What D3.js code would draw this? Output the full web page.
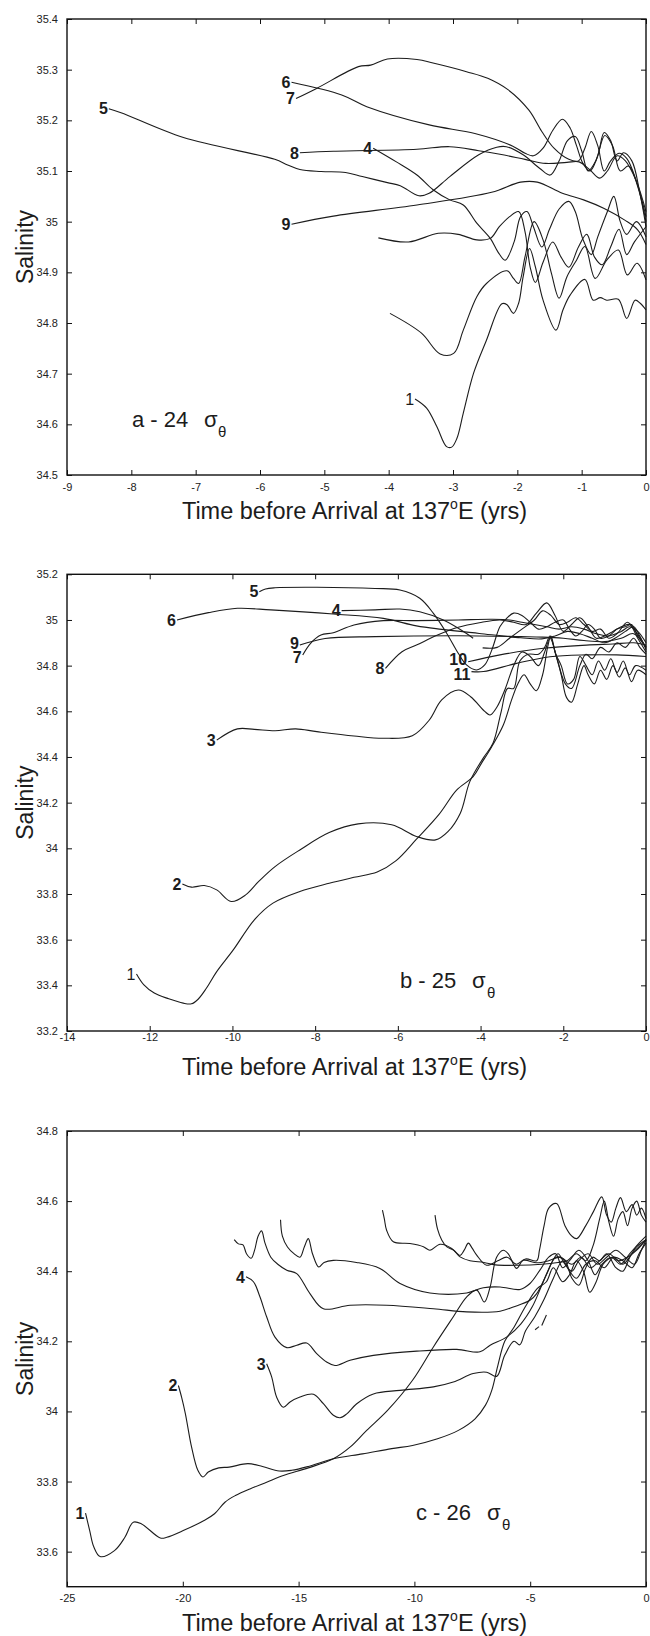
<!DOCTYPE html>
<html><head><meta charset="utf-8">
<script src="https://cdn.jsdelivr.net/npm/d3@7"></script>
<style>body{margin:0;background:#fff}</style>
</head><body>
<svg id="chart" width="650" height="1636"></svg>
<script>
// ---------------- Panel a : 24 sigma-theta ----------------
const aXTicks = [-9,-8,-7,-6,-5,-4,-3,-2,-1,0];
const aYTicks = [34.5,34.6,34.7,34.8,34.9,35,35.1,35.2,35.3,35.4];
const a1 = [[-3.59,34.650],[-3.41,34.632],[-3.25,34.595],[-3.10,34.556],[-3.02,34.555],[-2.94,34.572],[-2.84,34.622],[-2.68,34.701],[-2.48,34.766],[-2.24,34.838],[-2.16,34.836],[-2.06,34.819],[-1.98,34.839],[-1.91,34.891],[-1.81,34.947],[-1.72,34.911],[-1.60,34.845],[-1.40,34.786],[-1.29,34.826],[-1.18,34.855],[-0.95,34.886],[-0.82,34.845],[-0.71,34.850],[-0.61,34.845],[-0.43,34.847],[-0.30,34.809],[-0.17,34.845],[-0.09,34.839],[0,34.826]];
const a2 = [[-3.98,34.819],[-3.49,34.780],[-3.20,34.739],[-2.99,34.740],[-2.84,34.786],[-2.63,34.852],[-2.48,34.878],[-2.16,34.903],[-2.06,34.888],[-1.98,34.878],[-1.88,34.931],[-1.74,35.000],[-1.60,34.964],[-1.47,34.898],[-1.35,34.849],[-1.23,34.891],[-1.08,34.924],[-0.95,34.951],[-0.79,34.888],[-0.61,34.924],[-0.43,34.944],[-0.29,34.895],[-0.14,34.918],[0,34.885]];
const a3 = [[-4.16,34.968],[-3.69,34.960],[-3.23,34.977],[-2.92,34.975],[-2.63,34.964],[-2.42,34.967],[-2.28,34.99],[-2.12,35.01],[-1.98,35.02],[-1.88,34.98],[-1.80,34.91],[-1.72,34.88],[-1.60,34.92],[-1.45,34.96],[-1.32,34.93],[-1.20,34.91],[-1.05,34.95],[-0.92,34.975],[-0.80,34.93],[-0.68,34.915],[-0.55,34.95],[-0.42,34.985],[-0.30,34.935],[-0.18,34.96],[0,34.99]];
const a4 = [[-4.24,35.145],[-3.88,35.118],[-3.56,35.092],[-3.31,35.063],[-3.05,35.043],[-2.84,35.033],[-2.63,34.997],[-2.42,34.967],[-2.30,34.94],[-2.19,34.924],[-2.05,34.96],[-1.95,35.01],[-1.85,35.02],[-1.75,34.99],[-1.62,34.95],[-1.50,34.985],[-1.35,35.025],[-1.20,35.04],[-1.10,35.02],[-0.98,34.965],[-0.85,34.935],[-0.75,34.97],[-0.60,35.02],[-0.50,35.05],[-0.40,35.00],[-0.30,34.975],[-0.15,35.0],[0,34.97]];
const a5 = [[-8.35,35.223],[-8.16,35.215],[-7.19,35.166],[-5.77,35.123],[-5.57,35.112],[-5.38,35.103],[-5.05,35.099],[-4.67,35.097],[-4.41,35.089],[-4.02,35.077],[-3.82,35.071],[-3.53,35.051],[-3.37,35.056],[-3.05,35.089],[-2.60,35.132],[-2.32,35.147],[-2.17,35.148],[-1.91,35.132],[-1.65,35.105],[-1.49,35.092],[-1.35,35.12],[-1.22,35.16],[-1.10,35.168],[-1.00,35.14],[-0.90,35.10],[-0.78,35.12],[-0.64,35.17],[-0.52,35.15],[-0.40,35.10],[-0.27,35.11],[-0.13,35.07],[0,35.0]];
const a6 = [[-5.51,35.275],[-4.73,35.250],[-4.34,35.227],[-3.37,35.191],[-2.66,35.174],[-2.07,35.149],[-1.88,35.135],[-1.75,35.130],[-1.60,35.145],[-1.45,35.18],[-1.30,35.202],[-1.18,35.185],[-1.08,35.15],[-0.98,35.115],[-0.87,35.10],[-0.75,35.13],[-0.65,35.176],[-0.55,35.16],[-0.45,35.12],[-0.35,35.136],[-0.22,35.12],[-0.10,35.06],[0,34.99]];
const a7 = [[-5.44,35.243],[-5.12,35.263],[-4.47,35.306],[-4.28,35.309],[-4.02,35.321],[-3.56,35.320],[-3.31,35.313],[-2.79,35.296],[-2.46,35.283],[-2.14,35.260],[-1.82,35.220],[-1.62,35.178],[-1.43,35.145],[-1.20,35.123],[-1.05,35.12],[-0.95,35.145],[-0.85,35.178],[-0.75,35.15],[-0.65,35.10],[-0.55,35.12],[-0.42,35.135],[-0.30,35.125],[-0.15,35.08],[0,35.01]];
const a8 = [[-5.38,35.136],[-4.86,35.139],[-3.56,35.143],[-3.05,35.148],[-2.60,35.140],[-2.27,35.133],[-1.88,35.123],[-1.56,35.115],[-1.23,35.117],[-1.04,35.118],[-0.87,35.102],[-0.72,35.086],[-0.60,35.10],[-0.45,35.13],[-0.32,35.12],[-0.15,35.08],[0,35.02]];
const a9 = [[-5.51,34.995],[-4.86,35.011],[-3.56,35.033],[-2.40,35.058],[-1.95,35.078],[-1.69,35.078],[-1.30,35.056],[-0.97,35.043],[-0.65,35.026],[-0.33,35.003],[-0.13,34.984],[0,34.955]];
const aSeries = [a1,a2,a3,a4,a5,a6,a7,a8,a9];
const aNames  = ["1","","","4","5","6","7","8","9"];

// ---------------- Panel b : 25 sigma-theta ----------------
const bXTicks = [-14,-12,-10,-8,-6,-4,-2,0];
const bYTicks = [33.2,33.4,33.6,33.8,34,34.2,34.4,34.6,34.8,35,35.2];
const b1 = [[-12.32,33.45],[-12.14,33.402],[-11.89,33.366],[-11.54,33.341],[-11.19,33.322],[-10.99,33.319],[-10.83,33.339],[-10.63,33.387],[-10.38,33.46],[-9.98,33.555],[-9.47,33.687],[-9.02,33.76],[-8.37,33.811],[-7.66,33.847],[-7.06,33.873],[-6.5,33.896],[-6.05,33.945],[-5.55,34.04],[-5.0,34.15],[-4.58,34.255],[-4.18,34.314],[-3.98,34.372],[-3.73,34.445],[-3.45,34.54],[-3.25,34.65],[-3.1,34.72],[-2.95,34.76],[-2.8,34.72],[-2.65,34.69],[-2.5,34.76],[-2.38,34.88],[-2.3,34.93],[-2.2,34.86],[-2.05,34.76],[-1.92,34.66],[-1.8,34.64],[-1.65,34.72],[-1.5,34.80],[-1.4,34.76],[-1.25,34.72],[-1.1,34.78],[-0.95,34.74],[-0.8,34.80],[-0.65,34.75],[-0.5,34.79],[-0.35,34.73],[-0.2,34.78],[0,34.76]];
const b2 = [[-11.21,33.844],[-10.99,33.83],[-10.68,33.837],[-10.38,33.818],[-10.03,33.767],[-9.68,33.796],[-9.37,33.854],[-8.97,33.92],[-8.37,33.993],[-7.66,34.069],[-6.96,34.107],[-6.15,34.103],[-5.55,34.052],[-5.09,34.037],[-4.79,34.073],[-4.49,34.154],[-4.26,34.292],[-3.94,34.394],[-3.7,34.46],[-3.5,34.6],[-3.35,34.70],[-3.2,34.70],[-3.05,34.82],[-2.85,34.85],[-2.6,34.85],[-2.45,34.88],[-2.32,34.93],[-2.18,34.85],[-2.05,34.80],[-1.9,34.72],[-1.75,34.74],[-1.6,34.84],[-1.45,34.80],[-1.3,34.76],[-1.15,34.82],[-1.0,34.78],[-0.85,34.83],[-0.7,34.77],[-0.55,34.82],[-0.4,34.76],[-0.25,34.80],[0,34.78]];
const b3 = [[-10.38,34.474],[-9.88,34.523],[-9.47,34.521],[-8.97,34.515],[-8.47,34.523],[-7.96,34.511],[-7.06,34.492],[-6.35,34.482],[-5.65,34.493],[-5.24,34.562],[-4.94,34.65],[-4.54,34.693],[-4.24,34.664],[-3.9,34.6],[-3.77,34.584],[-3.6,34.62],[-3.4,34.70],[-3.2,34.80],[-3.0,34.86],[-2.8,34.84],[-2.6,34.80],[-2.45,34.86],[-2.32,34.92],[-2.15,34.83],[-1.95,34.72],[-1.8,34.70],[-1.6,34.80],[-1.45,34.85],[-1.3,34.83],[-1.1,34.88],[-0.9,34.86],[-0.7,34.90],[-0.5,34.88],[-0.3,34.92],[-0.15,34.88],[0,34.85]];
const b4 = [[-7.36,35.041],[-6.55,35.044],[-5.95,35.048],[-5.47,35.036],[-4.90,35.0],[-4.34,34.941],[-4.18,34.92]];
const b5 = [[-9.35,35.124],[-9.2,35.136],[-8.97,35.141],[-7.96,35.143],[-6.55,35.138],[-5.95,35.131],[-5.47,35.095],[-5.14,35.029],[-4.82,34.942],[-4.54,34.854],[-4.34,34.803],[-4.10,34.781],[-3.90,34.803],[-3.73,34.868],[-3.53,34.971],[-3.37,35.007],[-3.2,35.03],[-3.0,35.02],[-2.8,34.99],[-2.6,34.96],[-2.4,34.97],[-2.2,34.99],[-2.0,35.0],[-1.85,34.96],[-1.7,34.93],[-1.55,34.95],[-1.4,34.98],[-1.25,34.96],[-1.1,34.92],[-0.9,34.93],[-0.7,34.96],[-0.5,34.97],[-0.35,34.98],[-0.2,34.93],[0,34.88]];
const b6 = [[-11.34,35.0],[-10.58,35.032],[-9.88,35.051],[-9.07,35.044],[-7.56,35.026],[-6.35,35.007],[-5.55,34.974],[-4.94,34.959],[-4.03,34.941],[-3.03,34.922],[-2.52,34.917],[-2.2,34.93],[-1.9,34.95],[-1.6,34.94],[-1.3,34.92],[-1.0,34.90],[-0.75,34.92],[-0.5,34.95],[-0.3,34.97],[-0.15,34.93],[0,34.87]];
const b7 = [[-8.30,34.847],[-8.11,34.898],[-7.86,34.934],[-7.56,34.944],[-7.06,34.978],[-6.35,34.997],[-5.55,34.997],[-4.54,35.0],[-3.73,35.003],[-3.3,35.0],[-3.0,34.99],[-2.7,34.98],[-2.4,34.97],[-2.1,34.96],[-1.8,34.97],[-1.5,34.96],[-1.2,34.94],[-0.9,34.93],[-0.6,34.95],[-0.4,34.97],[-0.2,34.95],[0,34.9]];
const b8 = [[-6.30,34.788],[-5.90,34.861],[-5.55,34.890],[-5.04,34.934],[-4.54,34.968],[-4.03,34.988],[-3.53,35.0],[-3.2,34.99],[-2.9,34.98],[-2.65,35.03],[-2.4,35.075],[-2.2,35.02],[-2.0,34.95],[-1.8,34.98],[-1.6,35.01],[-1.4,34.97],[-1.2,34.92],[-1.0,34.93],[-0.8,34.95],[-0.6,34.97],[-0.4,34.98],[-0.2,34.92],[0,34.86]];
const b9 = [[-8.37,34.89],[-7.76,34.919],[-6.55,34.927],[-4.54,34.931],[-3.03,34.927],[-2.5,34.925],[-2.0,34.92],[-1.5,34.91],[-1.0,34.905],[-0.6,34.92],[-0.3,34.94],[0,34.88]];
const b10 = [[-4.30,34.817],[-3.53,34.847],[-2.48,34.876],[-1.44,34.89],[-0.8,34.895],[-0.3,34.90],[0,34.89]];
const b11 = [[-4.22,34.774],[-3.93,34.774],[-3.13,34.81],[-2.32,34.839],[-1.44,34.847],[-0.71,34.847],[0,34.84]];
const b12 = [[-3.95,34.878],[-3.6,34.88],[-3.3,34.92],[-3.0,34.96],[-2.7,35.0],[-2.5,35.04],[-2.3,35.02],[-2.1,34.98],[-1.9,34.99],[-1.7,35.01],[-1.5,34.98],[-1.3,34.95],[-1.1,34.96],[-0.9,34.92],[-0.7,34.94],[-0.45,34.99],[-0.25,34.95],[0,34.88]];
const bSeries = [b1,b2,b3,b4,b5,b6,b7,b8,b9,b10,b11,b12];
const bNames  = ["1","2","3","4","5","6","7","8","9","10","11",""];

// ---------------- Panel c : 26 sigma-theta ----------------
const cXTicks = [-25,-20,-15,-10,-5,0];
const cYTicks = [33.6,33.8,34,34.2,34.4,34.6,34.8];
const c1 = [[-24.20,33.71],[-24.02,33.66],[-23.84,33.613],[-23.57,33.586],[-22.95,33.603],[-22.5,33.641],[-22.14,33.684],[-21.78,33.679],[-20.97,33.639],[-20.69,33.641],[-19.98,33.66],[-19.08,33.689],[-18.63,33.708],[-18.18,33.741],[-17.73,33.76],[-17.10,33.779],[-16.38,33.798],[-15.66,33.817],[-14.58,33.839],[-13.5,33.865],[-12.78,33.898],[-12.06,33.946],[-11.16,34.003],[-10.08,34.089],[-9.18,34.184],[-8.32,34.27],[-7.74,34.327],[-7.31,34.346],[-6.98,34.312],[-6.73,34.355],[-6.45,34.44],[-6.16,34.46],[-5.94,34.449],[-5.59,34.408],[-5.30,34.431],[-4.72,34.424],[-4.2,34.43],[-3.7,34.44],[-3.2,34.42],[-2.8,34.44],[-2.4,34.41],[-2.0,34.43],[-1.6,34.45],[-1.2,34.43],[-0.8,34.44],[-0.4,34.46],[0,34.49]];
const c2 = [[-20.19,34.074],[-20.05,34.04],[-19.89,33.994],[-19.62,33.898],[-19.35,33.832],[-19.13,33.813],[-18.9,33.827],[-18.45,33.839],[-18.0,33.841],[-17.19,33.851],[-16.56,33.843],[-15.84,33.83],[-15.3,33.832],[-14.58,33.843],[-13.5,33.865],[-12.24,33.879],[-10.98,33.894],[-10.08,33.903],[-9.0,33.922],[-8.10,33.946],[-7.38,33.979],[-6.93,34.018],[-6.66,34.06],[-6.4,34.13],[-6.1,34.2],[-5.7,34.24],[-5.2,34.3],[-4.7,34.35],[-4.3,34.37],[-4.0,34.41],[-3.6,34.37],[-3.3,34.39],[-3.0,34.43],[-2.7,34.40],[-2.43,34.34],[-2.15,34.37],[-1.85,34.42],[-1.4,34.44],[-1.0,34.42],[-0.6,34.45],[-0.3,34.47],[0,34.49]];
const c3 = [[-16.38,34.136],[-16.16,34.098],[-15.95,34.041],[-15.66,34.012],[-15.37,34.027],[-14.94,34.041],[-14.36,34.049],[-13.93,34.022],[-13.5,33.989],[-13.21,33.982],[-12.92,33.993],[-12.49,34.022],[-11.77,34.05],[-10.62,34.06],[-9.18,34.07],[-8.32,34.084],[-7.46,34.108],[-6.88,34.112],[-6.45,34.10],[-6.1,34.16],[-5.7,34.2],[-5.45,34.19],[-5.2,34.23],[-4.8,34.27],[-4.4,34.32],[-4.0,34.38],[-3.6,34.43],[-3.3,34.40],[-3.0,34.38],[-2.6,34.42],[-2.2,34.43],[-1.8,34.41],[-1.4,34.44],[-1.0,34.43],[-0.6,34.41],[-0.3,34.45],[0,34.48]];
const c4 = [[-17.27,34.384],[-16.95,34.37],[-16.67,34.327],[-16.38,34.27],[-16.02,34.212],[-15.51,34.182],[-15.08,34.189],[-14.65,34.195],[-14.22,34.165],[-13.79,34.141],[-13.43,34.131],[-12.78,34.146],[-11.77,34.16],[-9.90,34.172],[-8.17,34.177],[-7.17,34.17],[-6.73,34.189],[-6.02,34.212],[-5.4,34.25],[-4.9,34.3],[-4.5,34.36],[-4.1,34.42],[-3.8,34.45],[-3.5,34.42],[-3.2,34.40],[-2.9,34.43],[-2.5,34.45],[-2.1,34.42],[-1.7,34.44],[-1.3,34.46],[-0.9,34.44],[-0.5,34.42],[-0.2,34.46],[0,34.49]];
const c5 = [[-17.78,34.49],[-17.6,34.478],[-17.4,34.475],[-17.25,34.45],[-17.05,34.437],[-16.9,34.46],[-16.75,34.50],[-16.6,34.515],[-16.45,34.48],[-16.2,34.44],[-15.9,34.42],[-15.51,34.403],[-15.08,34.393],[-14.51,34.336],[-13.93,34.293],[-12.78,34.303],[-11.2,34.303],[-9.18,34.293],[-7.74,34.284],[-6.3,34.286],[-5.73,34.298],[-5.01,34.317],[-4.72,34.336],[-4.3,34.39],[-3.9,34.44],[-3.5,34.43],[-3.2,34.38],[-2.9,34.36],[-2.6,34.41],[-2.3,34.44],[-2.0,34.43],[-1.7,34.45],[-1.3,34.41],[-1.0,34.40],[-0.7,34.44],[-0.4,34.47],[0,34.49]];
const c6 = [[-15.78,34.547],[-15.7,34.50],[-15.48,34.469],[-15.2,34.45],[-14.94,34.44],[-14.75,34.47],[-14.58,34.493],[-14.4,34.45],[-14.13,34.412],[-13.9,34.425],[-13.5,34.431],[-12.5,34.425],[-11.49,34.408],[-10.62,34.365],[-9.33,34.338],[-7.74,34.338],[-7.02,34.353],[-6.3,34.355],[-5.44,34.348],[-5.01,34.365],[-4.58,34.403],[-4.2,34.44],[-3.9,34.45],[-3.6,34.41],[-3.3,34.43],[-2.9,34.46],[-2.5,34.43],[-2.2,34.39],[-1.9,34.42],[-1.5,34.44],[-1.1,34.42],[-0.7,34.45],[-0.3,34.48],[0,34.5]];
const c7 = [[-11.38,34.574],[-11.3,34.55],[-11.2,34.517],[-10.91,34.484],[-10.19,34.479],[-9.61,34.47],[-9.33,34.46],[-8.89,34.477],[-8.39,34.465],[-8.03,34.441],[-7.6,34.43],[-7.0,34.425],[-6.5,34.418],[-5.5,34.417],[-4.5,34.42],[-3.8,34.425],[-3.4,34.43],[-3.0,34.45],[-2.6,34.43],[-2.3,34.47],[-2.0,34.55],[-1.8,34.60],[-1.6,34.54],[-1.4,34.50],[-1.2,34.55],[-1.0,34.57],[-0.8,34.53],[-0.6,34.58],[-0.4,34.60],[-0.2,34.56],[0,34.54]];
const c8 = [[-9.11,34.56],[-9.0,34.52],[-8.82,34.489],[-8.61,34.47],[-8.3,34.46],[-8.03,34.445],[-7.85,34.46],[-7.67,34.48],[-7.5,34.465],[-7.31,34.446],[-6.88,34.417],[-6.4,34.43],[-6.0,34.44],[-5.6,34.42],[-5.2,34.435],[-4.72,34.43],[-4.6,34.46],[-4.4,34.53],[-4.2,34.58],[-3.86,34.593],[-3.5,34.53],[-3.2,34.50],[-2.99,34.493],[-2.6,34.53],[-2.27,34.57],[-1.91,34.612],[-1.7,34.56],[-1.5,34.54],[-1.3,34.58],[-1.1,34.61],[-0.85,34.57],[-0.6,34.59],[-0.4,34.56],[-0.2,34.58],[0,34.55]];
const c9 = [[-4.79,34.233],[-4.62,34.242]];
const c10 = [[-4.50,34.245],[-4.30,34.275]];
const cSeries = [c1,c2,c3,c4,c5,c6,c7,c8,c9,c10];
const cNames  = ["1","2","3","4","","","","","",""];

// ---------------- layout / style (not data) ----------------
const FONT = "'Liberation Sans', Arial, Helvetica, sans-serif";
// small vertical nudges (px) for crowded curve labels
const labelNudge = {b:{"9":-2,"7":2,"10":-3,"11":3}};
const panels = [
  {key:'a', series:aSeries, names:aNames, plain:["1"], xd:[-9,0], yd:[34.5,35.4], xt:aXTicks, yt:aYTicks,
   box:{l:67,r:646,t:19,b:475}, xPad:8, title:{main:"a - 24", x:132, sx:204, tx:218, y:427}},
  {key:'b', series:bSeries, names:bNames, plain:["1"], xd:[-14,0], yd:[33.2,35.2], xt:bXTicks, yt:bYTicks,
   box:{l:67,r:646,t:574.3,b:1031}, xPad:2, title:{main:"b - 25", x:400, sx:472, tx:487, y:988}},
  {key:'c', series:cSeries, names:cNames, plain:[], xd:[-25,0], yd:[33.5,34.8], xt:cXTicks, yt:cYTicks,
   box:{l:67,r:646,t:1131,b:1586.7}, xPad:8, title:{main:"c - 26", x:416, sx:487, tx:502, y:1520}}
];

const svg = d3.select('#chart');
const fmt = v => String(+v.toFixed(1));

panels.forEach(p => {
  const B = p.box;
  const x = d3.scaleLinear().domain(p.xd).range([B.l, B.r]);
  const y = d3.scaleLinear().domain(p.yd).range([B.b, B.t]);
  const g = svg.append('g');

  const styleAxis = sel => {
    sel.select('.domain').remove();
    sel.selectAll('line').attr('stroke','#111').attr('stroke-width',1);
    sel.selectAll('text').attr('fill','#222').style('font-family',FONT).style('font-size','11px');
  };
  g.append('g').attr('transform',`translate(0,${B.b})`)
    .call(d3.axisBottom(x).tickValues(p.xt).tickFormat(fmt).tickSizeInner(-5).tickSizeOuter(0).tickPadding(p.xPad))
    .call(styleAxis);
  g.append('g').attr('transform',`translate(0,${B.t})`)
    .call(d3.axisTop(x).tickValues(p.xt).tickFormat('').tickSizeInner(-5).tickSizeOuter(0))
    .call(styleAxis);
  g.append('g').attr('transform',`translate(${B.l},0)`)
    .call(d3.axisLeft(y).tickValues(p.yt).tickFormat(fmt).tickSizeInner(-5).tickSizeOuter(0).tickPadding(9))
    .call(styleAxis);
  g.append('g').attr('transform',`translate(${B.r},0)`)
    .call(d3.axisRight(y).tickValues(p.yt).tickFormat('').tickSizeInner(-5).tickSizeOuter(0))
    .call(styleAxis);

  const line = d3.line().x(d => x(d[0])).y(d => y(d[1])).curve(d3.curveCatmullRom.alpha(0.5));
  g.append('g').selectAll('path').data(p.series).join('path')
    .attr('d', line).attr('fill','none').attr('stroke','#1c1c1c').attr('stroke-width',1.1)
    .attr('stroke-linejoin','round');

  g.append('rect').attr('x',B.l).attr('y',B.t).attr('width',B.r-B.l).attr('height',B.b-B.t)
    .attr('fill','none').attr('stroke','#111').attr('stroke-width',1.4);

  const nudges = labelNudge[p.key] || {};
  p.series.forEach((s,i) => {
    const name = p.names[i];
    if (!name) return;
    g.append('text').attr('x', x(s[0][0]) - 1).attr('y', y(s[0][1]) + (nudges[name] || 0))
      .attr('dy','0.36em').attr('text-anchor','end')
      .style('font-family',FONT).style('font-size','16px')
      .style('font-weight', p.plain.includes(name) ? 'normal' : 'bold')
      .attr('fill','#1c1c1c').text(name);
  });

  const T = p.title;
  g.append('text').attr('x',T.x).attr('y',T.y).style('font-family',FONT).style('font-size','22px')
    .attr('fill','#1c1c1c').text(T.main);
  g.append('text').attr('x',T.sx).attr('y',T.y).style('font-family',FONT).style('font-size','22px')
    .attr('fill','#1c1c1c').text('σ');
  g.append('text').attr('x',T.tx).attr('y',T.y+10).style('font-family',FONT).style('font-size','15px')
    .attr('fill','#1c1c1c').text('θ');

  const xl = g.append('text').attr('x',(B.l+B.r)/2 - 2).attr('y',B.b+44).attr('text-anchor','middle')
    .style('font-family',FONT).style('font-size','23.5px').attr('fill','#1c1c1c');
  xl.append('tspan').text('Time before Arrival at 137');
  xl.append('tspan').attr('dy',-10).style('font-size','14px').text('o');
  xl.append('tspan').attr('dy',10).text('E (yrs)');
  g.append('text').attr('transform',`translate(33,${(B.t+B.b)/2}) rotate(-90)`).attr('text-anchor','middle')
    .style('font-family',FONT).style('font-size','23px').attr('fill','#1c1c1c').text('Salinity');
});
</script>
</body></html>
